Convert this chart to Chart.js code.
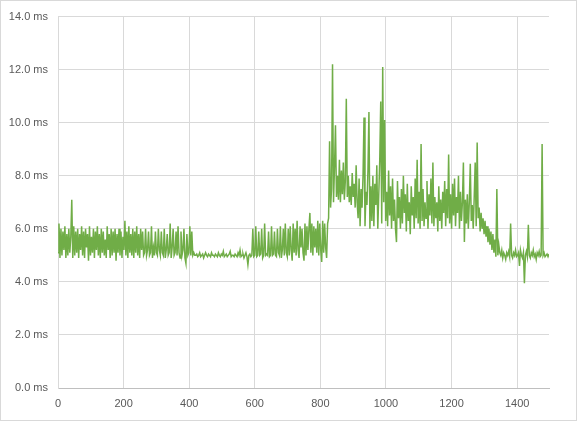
<!DOCTYPE html>
<html>
<head>
<meta charset="utf-8">
<script src="https://cdn.jsdelivr.net/npm/chart.js@4/dist/chart.umd.min.js"></script>
<style>
html,body{margin:0;padding:0;background:#fff;}
#wrap{width:581px;height:425px;position:relative;}
</style>
</head>
<body>
<div id="wrap"><canvas id="c" width="581" height="425"></canvas></div>
<script>
// sample spacing along the x axis (sample index)
const SAMPLE_STEP = 3;
const X_MAX = 1497;
const X_TICK_STEP = 200;
const Y_TICK_STEP = 2;
const Y_MAX = 14;

// Phase 1: samples 0-417, dense noisy band ~5-6 ms
const phaseDense = [
  5.1, 6.2, 4.9, 6.0, 5.0, 5.9, 5.2, 6.1, 4.9, 5.8, 5.0, 6.0, 5.1, 5.7, 7.1, 4.9, 6.1, 5.0, 5.9, 5.1,
  6.0, 4.9, 5.8, 5.2, 6.1, 5.0, 5.9, 4.9, 6.0, 5.3, 5.8, 4.8, 6.1, 5.0, 5.7, 5.1, 6.0, 4.9, 5.9, 5.2,
  6.1, 5.0, 5.8, 4.9, 6.0, 5.1, 5.9, 5.0, 5.6, 4.9, 6.1, 5.2, 5.8, 4.9, 6.0, 5.0, 5.9, 5.1, 6.0, 4.8,
  5.8, 5.1, 6.0, 5.0, 5.9, 4.9, 5.7, 5.2, 6.3, 5.0, 5.9, 4.9, 6.1, 5.1, 5.8, 5.0, 6.0, 4.9, 5.9, 5.1,
  6.1, 5.0, 5.8, 4.9, 6.0, 5.2, 5.9, 5.0, 5.1, 6.0, 5.0, 5.2, 5.9, 5.0, 5.1, 6.1, 4.9, 5.3, 5.0, 5.9,
  5.1, 5.0, 6.0, 5.2, 5.0, 5.9, 5.1, 5.0, 6.0, 4.9, 5.2, 5.8, 5.0, 5.1, 6.2, 4.9, 5.3, 6.0, 5.0, 5.1,
  5.9, 5.0, 6.1, 5.1, 4.9, 5.9, 5.0, 5.2, 6.0, 4.9, 4.7, 5.8, 5.0, 5.1, 6.1, 5.0, 5.9, 5.0, 5.1, 5.0
];
// Phase 2: samples 420-597, flat ~5 ms
const phaseFlat = [
  5.0, 5.05, 4.95, 5.0, 5.1, 4.95, 5.0, 5.05, 4.9, 5.0, 5.1, 5.0, 4.95, 5.05, 5.0, 4.95, 5.1, 5.0, 5.0, 4.95,
  5.05, 5.0, 4.95, 5.1, 5.0, 4.95, 5.05, 5.0, 5.15, 4.95, 5.0, 5.05, 4.95, 5.0, 5.05, 5.15, 4.95, 5.0, 5.0, 4.95,
  5.05, 5.0, 4.95, 5.1, 5.0, 5.2, 4.95, 5.0, 5.05, 4.9, 5.0, 5.1, 4.95, 4.65, 5.0, 5.05, 4.95, 5.0, 6.0, 4.95
];
// Phase 3: samples 600-819, spiky, growing band
const phaseSpiky = [
  5.0, 6.1, 4.95, 5.0, 5.9, 5.0, 5.05, 6.0, 4.9, 5.0, 6.2, 5.0, 5.05, 5.0, 5.9, 4.95, 5.0, 6.1, 5.0, 5.05,
  5.9, 5.0, 4.95, 6.0, 5.1, 5.0, 6.1, 4.9, 5.2, 6.0, 5.0, 6.2, 5.1, 4.95, 6.0, 5.0, 6.1, 5.2, 4.8, 6.2,
  5.1, 6.0, 5.0, 6.3, 5.2, 4.9, 6.1, 5.3, 6.0, 5.1, 4.8, 6.2, 5.0, 6.1, 5.2, 6.0, 6.6, 5.1, 6.2, 5.0,
  6.1, 5.3, 6.0, 5.1, 6.3, 5.0, 6.2, 5.2, 4.75, 6.3, 5.1, 6.2, 5.3, 4.9
];
// Phase 4: samples 822-999, jump to ~7 ms with big spikes
const phaseHigh = [
  6.2, 6.4, 9.3, 6.8, 7.5, 12.2, 7.0, 8.3, 9.9, 7.2, 8.0, 7.1, 8.6, 7.0, 8.2, 7.3, 8.5, 7.1, 7.8, 10.9,
  7.2, 8.0, 7.0, 7.6, 6.9, 8.1, 7.2, 7.7, 6.8, 8.4, 7.0, 6.4, 7.9, 6.1, 7.5, 6.8, 8.0, 10.2, 6.1, 7.4,
  6.9, 8.2, 10.4, 6.0, 7.6, 6.3, 8.0, 6.1, 7.7, 6.9, 8.4, 6.0, 7.3, 8.6, 10.8, 6.2, 12.1, 7.0, 10.1, 6.3
];
// Phase 5: samples 1002-1248, wide band ~6-8 ms
const phaseBand = [
  7.4, 6.1, 8.2, 6.5, 7.6, 6.0, 7.9, 6.3, 7.1, 6.0, 5.5, 7.8, 6.4, 7.2, 6.0, 7.5, 6.2, 8.0, 6.6, 7.3,
  5.9, 7.7, 6.3, 7.0, 5.8, 7.6, 6.5, 7.2, 6.0, 7.9, 6.4, 8.6, 6.2, 7.4, 6.0, 9.2, 6.3, 7.5, 6.1, 7.0,
  6.4, 7.8, 6.0, 7.3, 6.5, 7.9, 6.2, 8.5, 6.1, 7.2, 6.4, 7.0, 5.9, 7.6, 6.3, 7.1, 6.0, 7.4, 6.6, 7.8,
  6.1, 7.5, 6.4, 8.8, 6.2, 7.3, 6.0, 7.7, 6.5, 7.9, 6.1, 7.2, 6.6, 8.0, 6.0, 7.4, 6.3, 7.0, 8.5, 5.5,
  7.1, 6.2, 7.3
];
// Phase 6: samples 1251-1347, decline
const phaseDecline = [
  6.0, 7.0, 8.45, 6.3, 6.9, 6.0, 7.2, 8.5, 6.1, 9.25, 6.4, 6.8, 5.9, 6.6, 6.0, 6.4, 5.8, 6.3, 5.7, 6.1,
  5.5, 6.0, 5.4, 5.9, 5.2, 5.8, 5.1, 5.6, 4.95, 7.5, 5.0, 5.4, 5.1
];
// Phase 7: samples 1350-1497, flat ~5 ms
const phaseTail = [
  5.0, 5.2, 4.9, 5.1, 5.0, 4.85, 5.1, 5.0, 5.15, 4.95, 6.2, 5.0, 4.9, 5.1, 5.0, 5.2, 4.95, 5.0, 5.1, 4.6,
  5.2, 5.0, 4.9, 5.1, 3.95, 5.0, 5.15, 4.95, 6.15, 5.0, 4.9, 5.1, 5.0, 5.2, 4.95, 5.05, 4.85, 5.1, 5.0, 5.15,
  4.95, 5.0, 9.2, 5.0, 5.1, 4.95, 5.0, 5.05, 4.95, 5.05
];

const latency = [].concat(phaseDense, phaseFlat, phaseSpiky, phaseHigh, phaseBand, phaseDecline, phaseTail);
const points = latency.map((v, i) => ({ x: i * SAMPLE_STEP, y: v }));

const frame = {
  id: 'frame',
  beforeDraw(chart) {
    const ctx = chart.ctx;
    ctx.save();
    ctx.fillStyle = '#ffffff';
    ctx.fillRect(0, 0, chart.width, chart.height);
    ctx.strokeStyle = '#d9d9d9';
    ctx.lineWidth = 1;
    ctx.strokeRect(0.5, 0.5, 576, 420);
    ctx.restore();
  }
};

const font = { family: 'Liberation Sans, Arial, sans-serif', size: 11 };

new Chart(document.getElementById('c'), {
  type: 'line',
  data: {
    datasets: [{
      data: points,
      borderColor: '#70ad47',
      borderWidth: 1.5,
      pointRadius: 0,
      tension: 0,
      fill: false
    }]
  },
  options: {
    responsive: false,
    animation: false,
    events: [],
    layout: { padding: { left: 0, top: 15, right: 32, bottom: 0 } },
    plugins: { legend: { display: false }, tooltip: { enabled: false } },
    scales: {
      x: {
        type: 'linear',
        min: 0,
        max: X_MAX,
        afterFit(s) { s.height = 37; },
        grid: { color: '#d9d9d9', drawTicks: false },
        border: { color: '#bfbfbf' },
        ticks: {
          stepSize: X_TICK_STEP,
          includeBounds: false,
          color: '#595959',
          font: font,
          padding: 9,
          maxRotation: 0,
          callback: v => String(v)
        }
      },
      y: {
        min: 0,
        max: Y_MAX,
        afterFit(s) { s.width = 58; },
        grid: { color: '#d9d9d9', drawTicks: false },
        border: { color: '#d9d9d9' },
        ticks: {
          stepSize: Y_TICK_STEP,
          color: '#595959',
          font: font,
          padding: 10,
          callback: v => v.toFixed(1) + ' ms'
        }
      }
    }
  },
  plugins: [frame]
});
</script>
</body>
</html>
